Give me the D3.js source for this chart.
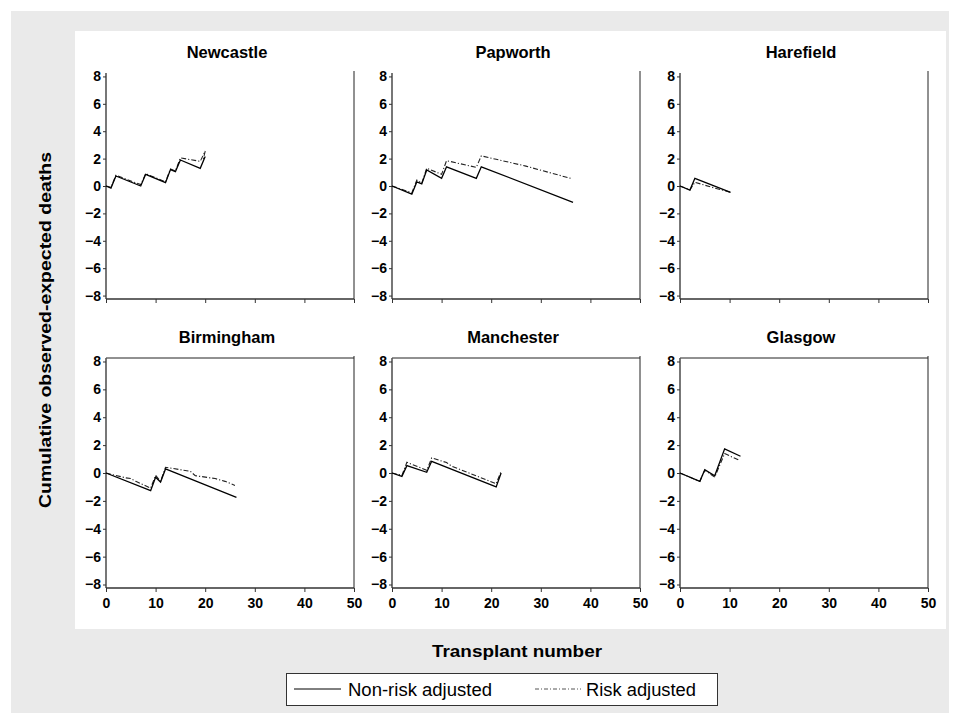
<!DOCTYPE html>
<html><head><meta charset="utf-8">
<script src="https://cdn.jsdelivr.net/npm/d3@7"></script>
<style>
body{margin:0;background:#fff;}
text{font-family:"Liberation Sans",Arial,sans-serif;}
</style></head>
<body><svg id="c" width="960" height="724"></svg>
<script>
const centres = ["Newcastle","Papworth","Harefield","Birmingham","Manchester","Glasgow"];
const xTicks = [0,10,20,30,40,50];
const yTicks = [-8,-6,-4,-2,0,2,4,6,8];
const seriesNames = ["Non-risk adjusted","Risk adjusted"];

// [transplant number, cumulative observed - expected]
const newcastleNon  = [[0,0],[1,-0.15],[2,0.73],[7,0],[8,0.85],[12,0.24],[13,1.2],[14,1.05],[15,1.9],[19,1.29],[20,2.15]];
const newcastleRisk = [[0,0],[1,-0.1],[2,0.78],[7,0.1],[8,0.9],[12,0.3],[13,1.25],[14,1.1],[15,2.05],[19,1.8],[20,2.55],[19.6,1.95]];
const papworthNon   = [[0,0],[4,-0.6],[5,0.3],[6,0.15],[7,1.17],[10,0.56],[11,1.4],[17,0.56],[18,1.4],[36.5,-1.19]];
const papworthRisk  = [[0,0],[4,-0.5],[5,0.44],[6,0.2],[7,1.3],[10,0.85],[11,1.85],[17,1.36],[18,2.2],[21,1.95],[27,1.45],[36,0.56]];
const harefieldNon  = [[0,0],[2,-0.3],[3,0.56],[10.2,-0.46]];
const harefieldRisk = [[0,0],[2,-0.28],[3,0.27],[7,-0.15],[10.2,-0.46]];
const birminghamNon = [[0,0],[9,-1.27],[10,-0.3],[11,-0.65],[12,0.29],[26.3,-1.75]];
const birminghamRisk= [[0,0],[4,-0.35],[5,-0.4],[6,-0.6],[9,-1.08],[10,-0.17],[11,-0.6],[12,0.41],[17,0.12],[18,-0.19],[22,-0.4],[24,-0.6],[26,-0.89]];
const manchesterNon = [[0,0],[2,-0.24],[3,0.53],[7,0.05],[8,0.84],[21,-1.0],[22,0]];
const manchesterRisk= [[0,0],[2,-0.17],[3,0.77],[7,0.19],[8,1.08],[11,0.75],[12,0.5],[21,-0.77],[22,0.12]];
const glasgowNon    = [[0,0],[4,-0.6],[5,0.24],[7,-0.2],[9,1.73],[12.2,1.2]];
const glasgowRisk   = [[0,0],[4,-0.6],[5,0.2],[7,-0.3],[9,1.4],[12,0.9]];

const nonAdj  = [newcastleNon, papworthNon, harefieldNon, birminghamNon, manchesterNon, glasgowNon];
const riskAdj = [newcastleRisk, papworthRisk, harefieldRisk, birminghamRisk, manchesterRisk, glasgowRisk];

const svg = d3.select("#c");
svg.append("rect").attr("x",11).attr("y",11).attr("width",938).attr("height",702).attr("fill","#eaeaea");
svg.append("rect").attr("x",75).attr("y",31).attr("width",871).attr("height",598).attr("fill","#fff");

const colLeft = [106, 392, 680];
const panelW = 248;
const rowTop = [73, 358];
const rowH = [226, 230];
const dashRisk = "5,2,1.2,2";

centres.forEach((name, i) => {
  const col = i % 3, row = Math.floor(i / 3);
  const x = d3.scaleLinear().domain([0,50]).range([colLeft[col], colLeft[col]+panelW]);
  const y = d3.scaleLinear().domain([-8.25,8.25]).range([rowTop[row]+rowH[row], rowTop[row]]);
  const g = svg.append("g");

  const x0 = colLeft[col], x1 = colLeft[col]+panelW, y0 = rowTop[row], y1 = rowTop[row]+rowH[row];
  if (row === 1) g.append("line").attr("x1",x0).attr("x2",x1).attr("y1",y0).attr("y2",y0).attr("stroke","#222").attr("stroke-width",1);
  g.append("line").attr("x1",x1).attr("x2",x1).attr("y1",y0-2).attr("y2",y1).attr("stroke","#222").attr("stroke-width",1);

  const ya = g.append("g").attr("transform",`translate(${x0},0)`)
    .call(d3.axisLeft(y).tickValues(yTicks).tickSize(3).tickPadding(2).tickFormat(d3.format("d")));
  ya.select(".domain").attr("stroke","#555").attr("stroke-width",1.6).attr("d",`M0,${y0}V${y1}`);
  ya.selectAll(".tick line").attr("stroke","#333");
  ya.selectAll("text").attr("font-size",14).attr("font-weight","bold").attr("fill","#000")
    .text(d => d < 0 ? "\u2212" + Math.abs(d) : d);

  const xa = g.append("g").attr("transform",`translate(0,${y1})`)
    .call(d3.axisBottom(x).tickValues(xTicks).tickSize(4).tickPadding(6).tickFormat(row===1 ? d3.format("d") : ""));
  xa.select(".domain").attr("stroke","#333").attr("stroke-width",1.4).attr("d",`M${x0},0H${x1}`);
  xa.selectAll(".tick line").attr("stroke","#333");
  xa.selectAll("text").attr("font-size",14).attr("font-weight","bold").attr("fill","#000");

  g.append("text").attr("x",(x0+x1)/2 - 3).attr("y",y0-15).attr("text-anchor","middle")
    .attr("font-size",16.5).attr("font-weight","bold").text(name);

  const line = d3.line().x(d => x(d[0])).y(d => y(d[1]));
  g.append("path").datum(riskAdj[i]).attr("d",line).attr("fill","none")
    .attr("stroke","#222").attr("stroke-width",1.1).attr("stroke-dasharray",dashRisk);
  g.append("path").datum(nonAdj[i]).attr("d",line).attr("fill","none")
    .attr("stroke","#000").attr("stroke-width",1.3);
});

svg.append("text").attr("transform","translate(51,330) rotate(-90)").attr("text-anchor","middle")
  .attr("font-size",17).attr("font-weight","bold").attr("textLength",356).attr("lengthAdjust","spacingAndGlyphs")
  .text("Cumulative observed-expected deaths");
svg.append("text").attr("x",517).attr("y",657).attr("text-anchor","middle")
  .attr("font-size",17).attr("font-weight","bold").attr("textLength",170).attr("lengthAdjust","spacingAndGlyphs")
  .text("Transplant number");

const lg = svg.append("g");
lg.append("rect").attr("x",286.5).attr("y",673.5).attr("width",431).attr("height",32).attr("fill","#fff").attr("stroke","#333");
lg.append("line").attr("x1",294).attr("x2",341).attr("y1",689).attr("y2",689).attr("stroke","#000").attr("stroke-width",1);
lg.append("text").attr("x",348).attr("y",695.5).attr("font-size",17.5).attr("textLength",144).attr("lengthAdjust","spacingAndGlyphs").text(seriesNames[0]);
lg.append("line").attr("x1",535).attr("x2",581).attr("y1",689).attr("y2",689).attr("stroke","#555").attr("stroke-width",1).attr("stroke-dasharray","4,2,1,2");
lg.append("text").attr("x",586).attr("y",695.5).attr("font-size",17.5).attr("textLength",110).attr("lengthAdjust","spacingAndGlyphs").text(seriesNames[1]);
</script></body></html>
